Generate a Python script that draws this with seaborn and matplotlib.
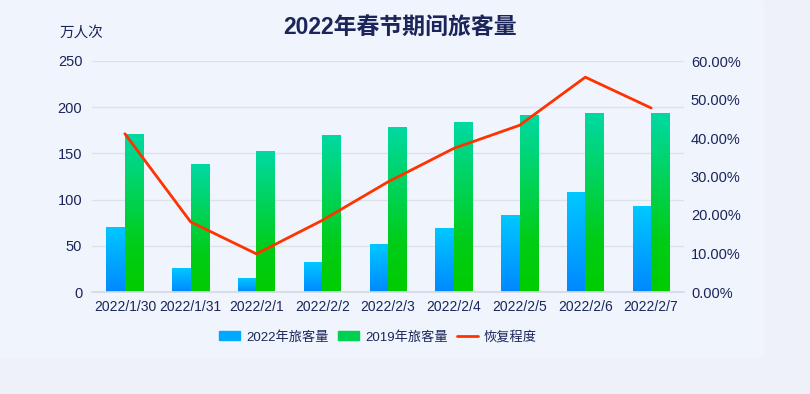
import numpy as np
import pandas as pd
import matplotlib
matplotlib.use("Agg")
import matplotlib.pyplot as plt
import seaborn as sns
from matplotlib.colors import LinearSegmentedColormap
from matplotlib.patches import Rectangle
from matplotlib.lines import Line2D
from matplotlib.ticker import FuncFormatter, MultipleLocator

# data
dates = ["2022/1/30", "2022/1/31", "2022/2/1", "2022/2/2", "2022/2/3",
         "2022/2/4", "2022/2/5", "2022/2/6", "2022/2/7"]
pax_2022 = [70, 25, 15, 31.5, 51, 68.5, 82.5, 108, 92.5]
pax_2019 = [170.5, 137.5, 152, 169, 178.5, 183.5, 190.5, 193.5, 193.5]
recovery = [41.1, 18.2, 9.9, 18.6, 28.6, 37.3, 43.3, 55.8, 47.8]
series_names = ["2022年旅客量", "2019年旅客量", "恢复程度"]

navy = "#1b2559"
grid_c = "#dde2ea"

sns.set_theme(style="white")
plt.rcParams["font.family"] = ["Liberation Sans", "Noto Sans CJK SC", "DejaVu Sans"]

df = pd.DataFrame({
    "date": dates * 2,
    "value": pax_2022 + pax_2019,
    "series": [series_names[0]] * len(dates) + [series_names[1]] * len(dates),
})

fig = plt.figure(figsize=(8.1, 3.94), dpi=100, facecolor="#eef1f7")
fig.patches.append(Rectangle((0, 1 - 357 / 394), 763 / 810, 357 / 394,
                             transform=fig.transFigure, color="#eff4fd", zorder=-1))
ax = fig.add_axes([92 / 810, 1 - 292 / 394, 592 / 810, 231 / 394])
ax.set_facecolor("none")

sns.barplot(data=df, x="date", y="value", hue="series", width=0.56, ax=ax,
            legend=False, saturation=1)

# gradient fill for each bar
cmap_blue = LinearSegmentedColormap.from_list("b", ["#0088ff", "#00c8ff"])
cmap_green = LinearSegmentedColormap.from_list(
    "g", [(0, "#00cc00"), (0.3, "#00cd18"), (1, "#00d9a3")])
grad = np.linspace(0, 1, 256).reshape(-1, 1)
for cont, cmap in zip(ax.containers, [cmap_blue, cmap_green]):
    for bar in cont:
        x0, w, h = bar.get_x(), bar.get_width(), bar.get_height()
        ax.imshow(grad, extent=[x0, x0 + w, 0, h], origin="lower",
                  aspect="auto", cmap=cmap, zorder=2)
        bar.set_visible(False)

ax.set_xlim(-0.5, len(dates) - 0.5)
ax.set_ylim(0, 250)
ax.yaxis.set_major_locator(MultipleLocator(50))
ax.grid(axis="y", color=grid_c, lw=1)
ax.set_axisbelow(True)
for s in ["top", "right", "left"]:
    ax.spines[s].set_visible(False)
ax.spines["bottom"].set_color("#d5d9e2")
ax.set_xlabel("")
ax.set_ylabel("")
ax.set_xticks(np.arange(len(dates)))
ax.set_xticklabels(dates)
ax.set_xticks(np.arange(len(dates) + 1) - 0.5, minor=True)
ax.tick_params(axis="x", which="major", length=0, pad=6, labelsize=10, labelcolor=navy)
ax.tick_params(axis="x", which="minor", length=5, color="#d5d9e2", width=1)
ax.tick_params(axis="y", length=0, pad=7, labelsize=10.5, labelcolor=navy)

# recovery line on right axis
ax2 = ax.twinx()
sns.lineplot(x=np.arange(len(dates)), y=recovery, ax=ax2, color="#ff3300", lw=2,
             zorder=5)
ax2.set_ylim(0, 60)
ax2.yaxis.set_major_locator(MultipleLocator(10))
ax2.yaxis.set_major_formatter(FuncFormatter(lambda v, p: f"{v:.2f}%"))
ax2.tick_params(axis="y", length=0, pad=5, labelsize=10.5, labelcolor=navy)
for s in ax2.spines.values():
    s.set_visible(False)
ax2.grid(False)
ax2.set_xlim(-0.5, len(dates) - 0.5)

fig.text(400 / 810, 1 - 28 / 394, "2022年春节期间旅客量", ha="center", va="center",
         fontsize=16.5, color=navy, fontweight="bold")
fig.text(60 / 810, 1 - 33 / 394, "万人次", ha="left", va="center",
         fontsize=10.5, color=navy)

handles = [Rectangle((0, 0), 1, 1, color="#00a8ff"),
           Rectangle((0, 0), 1, 1, color="#00d050"),
           Line2D([], [], color="#ff3300", lw=2)]
fig.legend(handles, series_names, loc="center", bbox_to_anchor=(378 / 810, 1 - 337 / 394),
           ncol=3, frameon=False, fontsize=9.5, labelcolor=navy, handlelength=1.6,
           handleheight=0.7, columnspacing=0.7, handletextpad=0.45)

fig.savefig("out.png", dpi=100, facecolor=fig.get_facecolor())
